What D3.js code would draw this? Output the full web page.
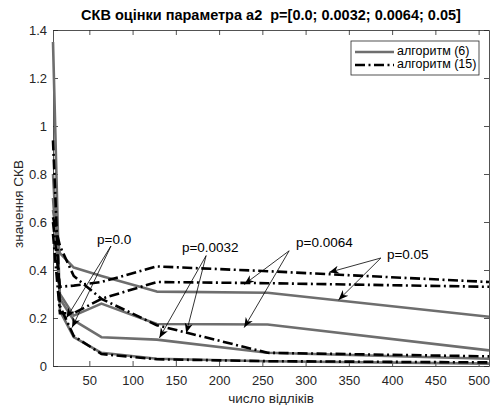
<!DOCTYPE html>
<html>
<head>
<meta charset="utf-8">
<script src="https://cdn.jsdelivr.net/npm/d3@7"></script>
<style>
    body { margin: 0; background: #fff; }
    text { font-family: Arial, "Liberation Sans", sans-serif; }
</style>
</head>
<body>
<svg id="drawing_region"></svg>
<script>
// number of samples (x)
const samples = [8, 16, 32, 64, 128, 256, 512];

// algorithm (6), solid lines
const alg6_p0    = [1.35, 0.23, 0.12, 0.055, 0.03, 0.02, 0.01];
const alg6_p0032 = [0.80, 0.28, 0.19, 0.12, 0.11, 0.055, 0.03];
const alg6_p0064 = [0.70, 0.30, 0.21, 0.26, 0.175, 0.173, 0.065];
const alg6_p05   = [0.65, 0.47, 0.41, 0.375, 0.31, 0.305, 0.205];

// algorithm (15), dash-dot lines
const alg15_p0    = [0.94, 0.25, 0.125, 0.05, 0.028, 0.02, 0.015];
const alg15_p0032 = [0.62, 0.50, 0.375, 0.28, 0.17, 0.055, 0.04];
const alg15_p0064 = [0.55, 0.22, 0.22, 0.28, 0.35, 0.345, 0.33];
const alg15_p05   = [0.60, 0.33, 0.335, 0.35, 0.415, 0.395, 0.35];

const x_ticks = [50, 100, 150, 200, 250, 300, 350, 400, 450, 500];
const y_ticks = [0, 0.2, 0.4, 0.6, 0.8, 1, 1.2, 1.4];

const legend_labels = ['алгоритм (6)', 'алгоритм (15)'];

// annotations in data units: label position, arrow start, arrow tips
const note_labels = ['p=0.0', 'p=0.0032', 'p=0.0064', 'p=0.05'];
const note_pos    = [[59, 0.525], [157, 0.49], [289, 0.51], [394, 0.46]];
const note_from   = [[75, 0.50], [185, 0.46], [281, 0.48], [387, 0.45]];
const note_tips   = [
    [[23.4, 0.20], [30, 0.16]],
    [[131, 0.117], [162, 0.137]],
    [[229, 0.34], [229, 0.16]],
    [[327, 0.39], [338, 0.275]]
];

class LineChart {

    constructor( config ) {
        this.config = config;
        this.init();
    }

    init() {
        let self = this;
        const c = self.config;

        self.svg = d3.select( c.parent )
            .attr('width', c.width)
            .attr('height', c.height);

        self.xscale = d3.scaleLinear().domain([8, 512]).range([c.left, c.right]);
        self.yscale = d3.scaleLinear().domain([0, 1.4]).range([c.bottom, c.top]);

        self.line = d3.line()
            .x((d, i) => self.xscale(samples[i]))
            .y(d => self.yscale(d));
    }

    render() {
        let self = this;
        const c = self.config;
        const ink = '#262626';

        // axes with inward ticks on all four sides
        const xb = d3.axisBottom(self.xscale).tickValues(x_ticks).tickSizeInner(-5).tickSizeOuter(0).tickPadding(10);
        const xt = d3.axisTop(self.xscale).tickValues(x_ticks).tickSizeInner(-5).tickSizeOuter(0).tickFormat('');
        const yl = d3.axisLeft(self.yscale).tickValues(y_ticks).tickSizeInner(-5).tickSizeOuter(0).tickPadding(6).tickFormat(d3.format('~g'));
        const yr = d3.axisRight(self.yscale).tickValues(y_ticks).tickSizeInner(-5).tickSizeOuter(0).tickFormat('');

        const groups = [
            [xb, `translate(0, ${c.bottom})`],
            [xt, `translate(0, ${c.top})`],
            [yl, `translate(${c.left}, 0)`],
            [yr, `translate(${c.right}, 0)`]
        ];
        groups.forEach(g => {
            const ag = self.svg.append('g').attr('transform', g[1]).call(g[0]);
            ag.selectAll('path, line').attr('stroke', ink).attr('stroke-width', 0.8);
            ag.selectAll('text').attr('fill', ink).attr('font-size', 13)
                .attr('font-family', 'Arial, "Liberation Sans", sans-serif');
        });

        // curves
        const solid = [alg6_p0, alg6_p0032, alg6_p0064, alg6_p05];
        const dashdot = [alg15_p0, alg15_p0032, alg15_p0064, alg15_p05];

        self.svg.append('g').selectAll('path').data(solid).enter()
            .append('path')
            .attr('d', self.line)
            .attr('fill', 'none')
            .attr('stroke', '#6e6e6e')
            .attr('stroke-width', 2.6)
            .attr('stroke-linejoin', 'round');

        self.svg.append('g').selectAll('path').data(dashdot).enter()
            .append('path')
            .attr('d', self.line)
            .attr('fill', 'none')
            .attr('stroke', '#000')
            .attr('stroke-width', 2.6)
            .attr('stroke-dasharray', '10,3.5,2,3.5');

        // arrow head marker
        self.svg.append('defs').append('marker')
            .attr('id', 'head')
            .attr('viewBox', '-10 -5 11 10')
            .attr('refX', 0).attr('refY', 0)
            .attr('markerWidth', 11).attr('markerHeight', 10)
            .attr('markerUnits', 'userSpaceOnUse')
            .attr('orient', 'auto')
            .append('path')
            .attr('d', 'M0,0 L-10,-4 L-7,0 L-10,4 Z')
            .attr('fill', '#000');

        // annotations
        note_labels.forEach((lab, i) => {
            note_tips[i].forEach(t => {
                self.svg.append('line')
                    .attr('x1', self.xscale(note_from[i][0])).attr('y1', self.yscale(note_from[i][1]))
                    .attr('x2', self.xscale(t[0])).attr('y2', self.yscale(t[1]))
                    .attr('stroke', '#000').attr('stroke-width', 0.8)
                    .attr('marker-end', 'url(#head)');
            });
            self.svg.append('text')
                .attr('x', self.xscale(note_pos[i][0]))
                .attr('y', self.yscale(note_pos[i][1]))
                .attr('dominant-baseline', 'middle')
                .attr('font-size', 13.5)
                .attr('fill', '#000')
                .text(lab);
        });

        // legend
        const lg = self.svg.append('g').attr('transform', 'translate(351, 41)');
        lg.append('rect')
            .attr('width', 128).attr('height', 34)
            .attr('fill', '#fff').attr('stroke', ink).attr('stroke-width', 0.8);
        legend_labels.forEach((lab, i) => {
            const yy = 11 + i * 13;
            lg.append('line')
                .attr('x1', 4).attr('x2', 43).attr('y1', yy).attr('y2', yy)
                .attr('stroke', i === 0 ? '#6e6e6e' : '#000')
                .attr('stroke-width', 2.6)
                .attr('stroke-dasharray', i === 0 ? null : '10,3.5,2,3.5');
            lg.append('text')
                .attr('x', 46).attr('y', yy)
                .attr('dominant-baseline', 'middle')
                .attr('font-size', 12.5)
                .attr('fill', '#000')
                .text(lab);
        });

        // title and axis labels
        self.svg.append('text')
            .attr('x', (c.left + c.right) / 2).attr('y', 20)
            .attr('text-anchor', 'middle')
            .attr('font-size', 14.5).attr('font-weight', 'bold')
            .attr('fill', '#000')
            .style('white-space', 'pre')
            .text('СКВ оцінки параметра а2  p=[0.0; 0.0032; 0.0064; 0.05]');

        self.svg.append('text')
            .attr('x', (c.left + c.right) / 2).attr('y', 403)
            .attr('text-anchor', 'middle')
            .attr('font-size', 13.5)
            .attr('fill', ink)
            .text('число відліків');

        self.svg.append('text')
            .attr('transform', `translate(23, ${(c.top + c.bottom) / 2 + 6}) rotate(-90)`)
            .attr('text-anchor', 'middle')
            .attr('font-size', 13.5)
            .attr('fill', ink)
            .text('значення СКВ');
    }
};

const config = {
    parent: '#drawing_region',
    width: 493,
    height: 405,
    left: 53, right: 489,
    top: 30, bottom: 366
};

const chart = new LineChart( config );
chart.render();
</script>
</body>
</html>
